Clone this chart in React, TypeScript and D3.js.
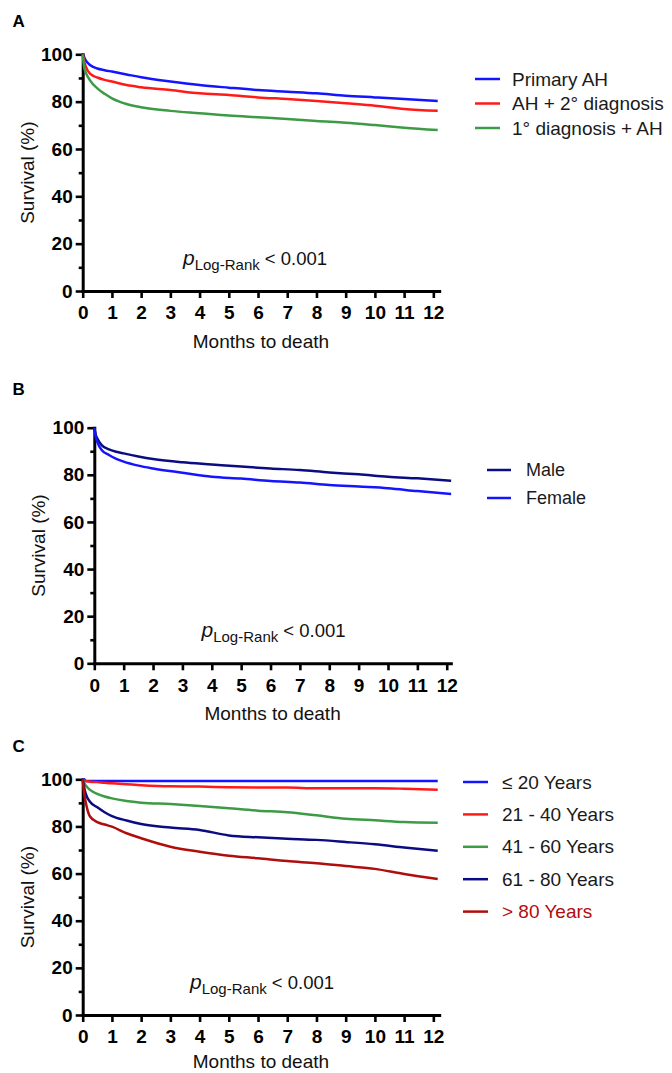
import React, { useEffect, useRef } from 'react';
import * as d3 from 'd3';

// Time grid shared by every curve (months)
const months = [0, 0.05, 0.1, 0.25, 0.5, 0.75, 1, 1.5, 2, 3, 4, 5, 6, 7, 8, 9, 10, 11, 12.15];
const monthTicks = [0, 1, 2, 3, 4, 5, 6, 7, 8, 9, 10, 11, 12];
const survivalTicks = [0, 20, 40, 60, 80, 100];
const survivalMinorTicks = [10, 30, 50, 70, 90];

// Panel A - diagnosis groups
const diagnosisLabels = ['Primary AH', 'AH + 2° diagnosis', '1° diagnosis + AH'];
const primaryAH = [100, 98.8, 97.5, 95.5, 94.0, 93.3, 92.7, 91.5, 90.3, 88.5, 87.0, 85.9, 84.9, 84.2, 83.5, 82.5, 81.8, 81.1, 80.3];
const ahPlusSecondary = [100, 97.0, 95.0, 91.8, 90.2, 89.2, 88.5, 87.0, 86.1, 84.9, 83.5, 82.8, 81.8, 81.1, 80.3, 79.3, 78.3, 76.9, 76.1];
const primaryPlusAH = [100, 94.5, 92.5, 89.0, 85.6, 83.3, 81.4, 79.0, 77.6, 76.1, 75.1, 74.1, 73.4, 72.7, 71.8, 71.1, 70.1, 69.0, 68.0];

// Panel B - sex
const sexLabels = ['Male', 'Female'];
const male = [100, 97.0, 95.5, 92.6, 90.8, 89.8, 89.1, 87.8, 86.7, 85.3, 84.4, 83.5, 82.7, 82.0, 81.0, 80.2, 79.2, 78.5, 77.5];
const female = [100, 96.0, 94.0, 90.5, 88.4, 86.8, 85.6, 83.9, 82.7, 80.9, 79.2, 78.4, 77.4, 76.7, 75.7, 75.0, 74.3, 73.1, 71.9];

// Panel C - age groups
const ageLabels = ['≤ 20 Years', '21 - 40 Years', '41 - 60 Years', '61 - 80 Years', '> 80 Years'];
const age20 = [100, 100, 99.3, 99.3, 99.3, 99.3, 99.3, 99.3, 99.3, 99.3, 99.3, 99.3, 99.3, 99.3, 99.3, 99.3, 99.3, 99.3, 99.3];
const age21to40 = [100, 99.6, 99.3, 99.0, 98.8, 98.5, 98.3, 97.9, 97.5, 97.0, 96.9, 96.6, 96.5, 96.5, 96.2, 96.2, 96.2, 96.0, 95.6];
const age41to60 = [100, 98.5, 97.5, 95.5, 93.8, 92.7, 91.9, 90.8, 90.1, 89.5, 88.7, 87.7, 86.7, 86.0, 84.7, 83.3, 82.6, 81.9, 81.6];
const age61to80 = [100, 96.5, 94.0, 90.5, 88.1, 86.0, 84.4, 82.5, 81.0, 79.5, 78.5, 76.2, 75.4, 74.8, 74.3, 73.4, 72.4, 71.1, 69.7];
const age80plus = [100, 94.0, 90.5, 84.2, 81.8, 80.8, 79.9, 77.1, 75.0, 71.4, 69.3, 67.6, 66.5, 65.3, 64.4, 63.2, 62.0, 59.8, 57.7];

const FONT = '"Liberation Sans", Arial, Helvetica, sans-serif';
const BLUE = '#1414ff';
const RED = '#ff1a1a';
const GREEN = '#3d9b45';
const NAVY = '#0c0c82';
const DARK_RED = '#b00d0d';

// Layout of the three panels (pixel positions only)
const panels = [
  {
    letter: 'A', letterY: 26.5, x0: 82.7, pxPerMonth: 29.22, yTop: 54.3, yBottom: 291, axisEnd: 12.2,
    yLabelX: 27, pX: 183, titleOffset: 56.5,
    labels: diagnosisLabels,
    series: [
      { values: primaryAH, color: BLUE },
      { values: ahPlusSecondary, color: RED },
      { values: primaryPlusAH, color: GREEN },
    ],
    legend: { x1: 475, x2: 500, tx: 512, y: 79, dy: 24.5, size: 19 },
  },
  {
    letter: 'B', letterY: 395, x0: 94.3, pxPerMonth: 29.37, yTop: 427.7, yBottom: 663.3, axisEnd: 12.14,
    yLabelX: 38.5, pX: 201.5, titleOffset: 57,
    labels: sexLabels,
    series: [
      { values: male, color: NAVY },
      { values: female, color: BLUE },
    ],
    legend: { x1: 487, x2: 511, tx: 526, y: 470, dy: 28, size: 18 },
  },
  {
    letter: 'C', letterY: 751.5, x0: 82.7, pxPerMonth: 29.22, yTop: 779.3, yBottom: 1015, axisEnd: 12.2,
    yLabelX: 27, pX: 190, titleOffset: 53,
    labels: ageLabels,
    series: [
      { values: age20, color: BLUE },
      { values: age21to40, color: RED },
      { values: age41to60, color: GREEN },
      { values: age61to80, color: NAVY },
      { values: age80plus, color: DARK_RED, textColor: DARK_RED },
    ],
    legend: { x1: 463, x2: 488, tx: 502, y: 782, dy: 32.4, size: 19 },
  },
];

const drawPanel = (svg: any, p: any) => {
  const g = svg.append('g');
  const x = d3.scaleLinear().domain([0, p.axisEnd]).range([p.x0, p.x0 + p.axisEnd * p.pxPerMonth]);
  const y = d3.scaleLinear().domain([0, 100]).range([p.yBottom, p.yTop]);

  // Panel letter
  g.append('text')
    .attr('x', 12.5)
    .attr('y', p.letterY)
    .style('font-family', FONT)
    .style('font-weight', 'bold')
    .style('font-size', '17px')
    .text(p.letter);

  // X axis
  const xAxis = g
    .append('g')
    .attr('transform', `translate(0, ${p.yBottom})`)
    .call(d3.axisBottom(x).tickValues(monthTicks).tickSize(7).tickSizeOuter(0).tickPadding(8).tickFormat(d3.format('d')));
  xAxis.select('.domain').attr('stroke-width', 3).attr('stroke-linecap', 'square').attr('stroke', '#000');
  xAxis.selectAll('.tick line').attr('stroke-width', 2.6).attr('stroke', '#000');
  xAxis
    .selectAll('text')
    .style('font-family', FONT)
    .style('font-weight', 'bold')
    .style('font-size', '19px')
    .attr('fill', '#000');

  // Y axis, major ticks
  const yAxis = g
    .append('g')
    .attr('transform', `translate(${p.x0}, 0)`)
    .call(d3.axisLeft(y).tickValues(survivalTicks).tickSize(7).tickSizeOuter(0).tickPadding(3));
  yAxis.select('.domain').attr('stroke-width', 3).attr('stroke-linecap', 'square').attr('stroke', '#000');
  yAxis.selectAll('.tick line').attr('stroke-width', 2.6).attr('stroke', '#000');
  yAxis
    .selectAll('text')
    .style('font-family', FONT)
    .style('font-weight', 'bold')
    .style('font-size', '19px')
    .attr('fill', '#000');

  // Y axis, minor ticks
  const yMinor = g
    .append('g')
    .attr('transform', `translate(${p.x0}, 0)`)
    .call(d3.axisLeft(y).tickValues(survivalMinorTicks).tickSize(4).tickFormat(() => ''));
  yMinor.select('.domain').remove();
  yMinor.selectAll('.tick line').attr('stroke-width', 2.6).attr('stroke', '#000');

  // Axis titles
  g.append('text')
    .attr('x', (x(0) + x(p.axisEnd)) / 2)
    .attr('y', p.yBottom + p.titleOffset)
    .attr('text-anchor', 'middle')
    .style('font-family', FONT)
    .style('font-size', '19px')
    .attr('fill', '#111')
    .text('Months to death');

  g.append('text')
    .attr('transform', `translate(${p.yLabelX}, ${(p.yTop + p.yBottom) / 2}) rotate(-90)`)
    .attr('text-anchor', 'middle')
    .attr('dy', '0.35em')
    .style('font-family', FONT)
    .style('font-size', '19px')
    .attr('fill', '#111')
    .text('Survival (%)');

  // Survival curves
  const line = d3
    .line<number>()
    .x((_, i) => x(months[i]))
    .y((d) => y(d))
    .curve(d3.curveMonotoneX);

  p.series.forEach((s: any) => {
    g.append('path')
      .attr('d', line(s.values))
      .attr('fill', 'none')
      .attr('stroke', s.color)
      .attr('stroke-width', 2.5)
      .attr('stroke-linejoin', 'round');
  });

  // Log-rank p value
  const pText = g
    .append('text')
    .attr('x', p.pX)
    .attr('y', p.yBottom - 26)
    .style('font-family', FONT)
    .attr('fill', '#111');
  pText.append('tspan').style('font-style', 'italic').style('font-size', '21px').text('p');
  pText.append('tspan').style('font-size', '15px').attr('dy', 5).text('Log-Rank');
  pText.append('tspan').style('font-size', '18.5px').attr('dy', -5).text(' < 0.001');

  // Legend
  const lg = p.legend;
  p.labels.forEach((label: string, i: number) => {
    const s = p.series[i];
    const ly = lg.y + i * lg.dy;
    g.append('line')
      .attr('x1', lg.x1)
      .attr('x2', lg.x2)
      .attr('y1', ly)
      .attr('y2', ly)
      .attr('stroke', s.color)
      .attr('stroke-width', 2.5);
    g.append('text')
      .attr('x', lg.tx)
      .attr('y', ly)
      .attr('dy', '0.35em')
      .style('font-family', FONT)
      .style('font-size', `${lg.size}px`)
      .attr('fill', s.textColor || '#1a1a1a')
      .text(label);
  });
};

const App = () => {
  const chartRef = useRef<SVGSVGElement>(null);

  useEffect(() => {
    const svg = d3.select(chartRef.current).attr('width', 672).attr('height', 1073);
    svg.selectAll('*').remove();
    svg.append('rect').attr('width', 672).attr('height', 1073).attr('fill', '#fff');
    panels.forEach((p) => drawPanel(svg, p));
  }, []);

  return <svg ref={chartRef} style={{ position: 'absolute', left: 0, top: 0, display: 'block' }}></svg>;
};

export default App;
